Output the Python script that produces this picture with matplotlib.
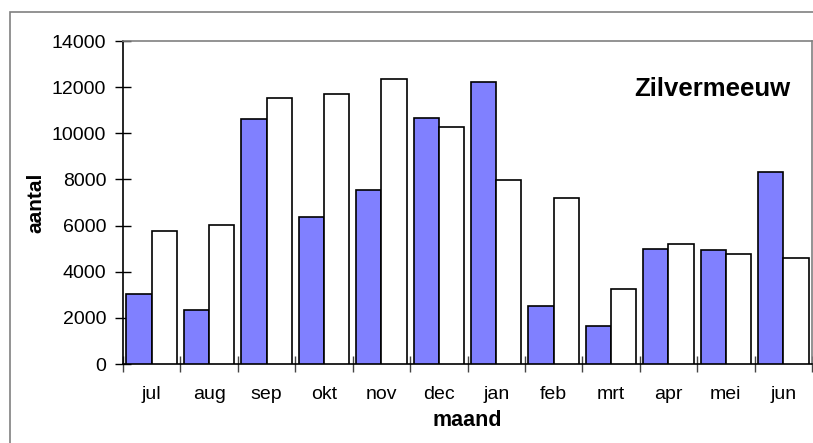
import matplotlib
matplotlib.use('Agg')
import matplotlib.pyplot as plt
from matplotlib.patches import Rectangle
import numpy as np

plt.rcParams['font.family'] = ['Liberation Sans', 'DejaVu Sans']

maanden = ['jul', 'aug', 'sep', 'okt', 'nov', 'dec', 'jan', 'feb', 'mrt', 'apr', 'mei', 'jun']
reeks_blauw = [3050, 2350, 10620, 6370, 7560, 10680, 12210, 2510, 1660, 5000, 4930, 8310]
reeks_wit = [5760, 6020, 11520, 11720, 12340, 10260, 7980, 7210, 3260, 5200, 4780, 4580]
y_ticks = [0, 2000, 4000, 6000, 8000, 10000, 12000, 14000]

fig = plt.figure(figsize=(8.13, 4.43), dpi=100)
ax = fig.add_axes([0.1513, 0.1783, 0.8475, 0.7291])

# chart border (Excel style)
fig.patches.append(Rectangle((10 / 813, -0.1), 1.1, (443 - 12) / 443 + 0.1,
                             transform=fig.transFigure, fill=False,
                             edgecolor='#808080', linewidth=1.2))

x = np.arange(len(maanden))
w = 0.44
ax.bar(x + 0.5 - w, reeks_blauw, width=w, align='edge', color='#8080FF',
       edgecolor='black', linewidth=1.2, zorder=3)
ax.bar(x + 0.5, reeks_wit, width=w, align='edge', color='white',
       edgecolor='black', linewidth=1.2, zorder=3)

ax.set_xlim(0, 12)
ax.set_ylim(0, 14000)
ax.set_yticks(y_ticks)
ax.set_yticklabels([str(v) for v in y_ticks], fontsize=14)
ax.set_xticks(np.arange(13))
ax.set_xticklabels([])
ax.set_xticks(x + 0.5, minor=True)
ax.set_xticklabels(maanden, minor=True, fontsize=14)
ax.tick_params(axis='x', which='minor', length=0, pad=16)
ax.tick_params(axis='x', which='major', direction='inout', length=12, width=1, color='#444444')
ax.tick_params(axis='y', direction='inout', length=12, width=1, pad=6)

for s in ['top', 'right']:
    ax.spines[s].set_color('#808080')
    ax.spines[s].set_linewidth(1.2)
for s in ['left', 'bottom']:
    ax.spines[s].set_color('black')
    ax.spines[s].set_linewidth(1.2)

ax.set_ylabel('aantal', fontsize=15, fontweight='bold')
ax.yaxis.set_label_coords(-0.112, 0.5)
ax.set_xlabel('maand', fontsize=15.5, fontweight='bold')
ax.xaxis.set_label_coords(0.499, -0.142)

ax.text(0.855, 0.851, 'Zilvermeeuw', transform=ax.transAxes, ha='center', va='center',
        fontsize=18.5, fontweight='bold')

fig.savefig('out.png', dpi=100)
